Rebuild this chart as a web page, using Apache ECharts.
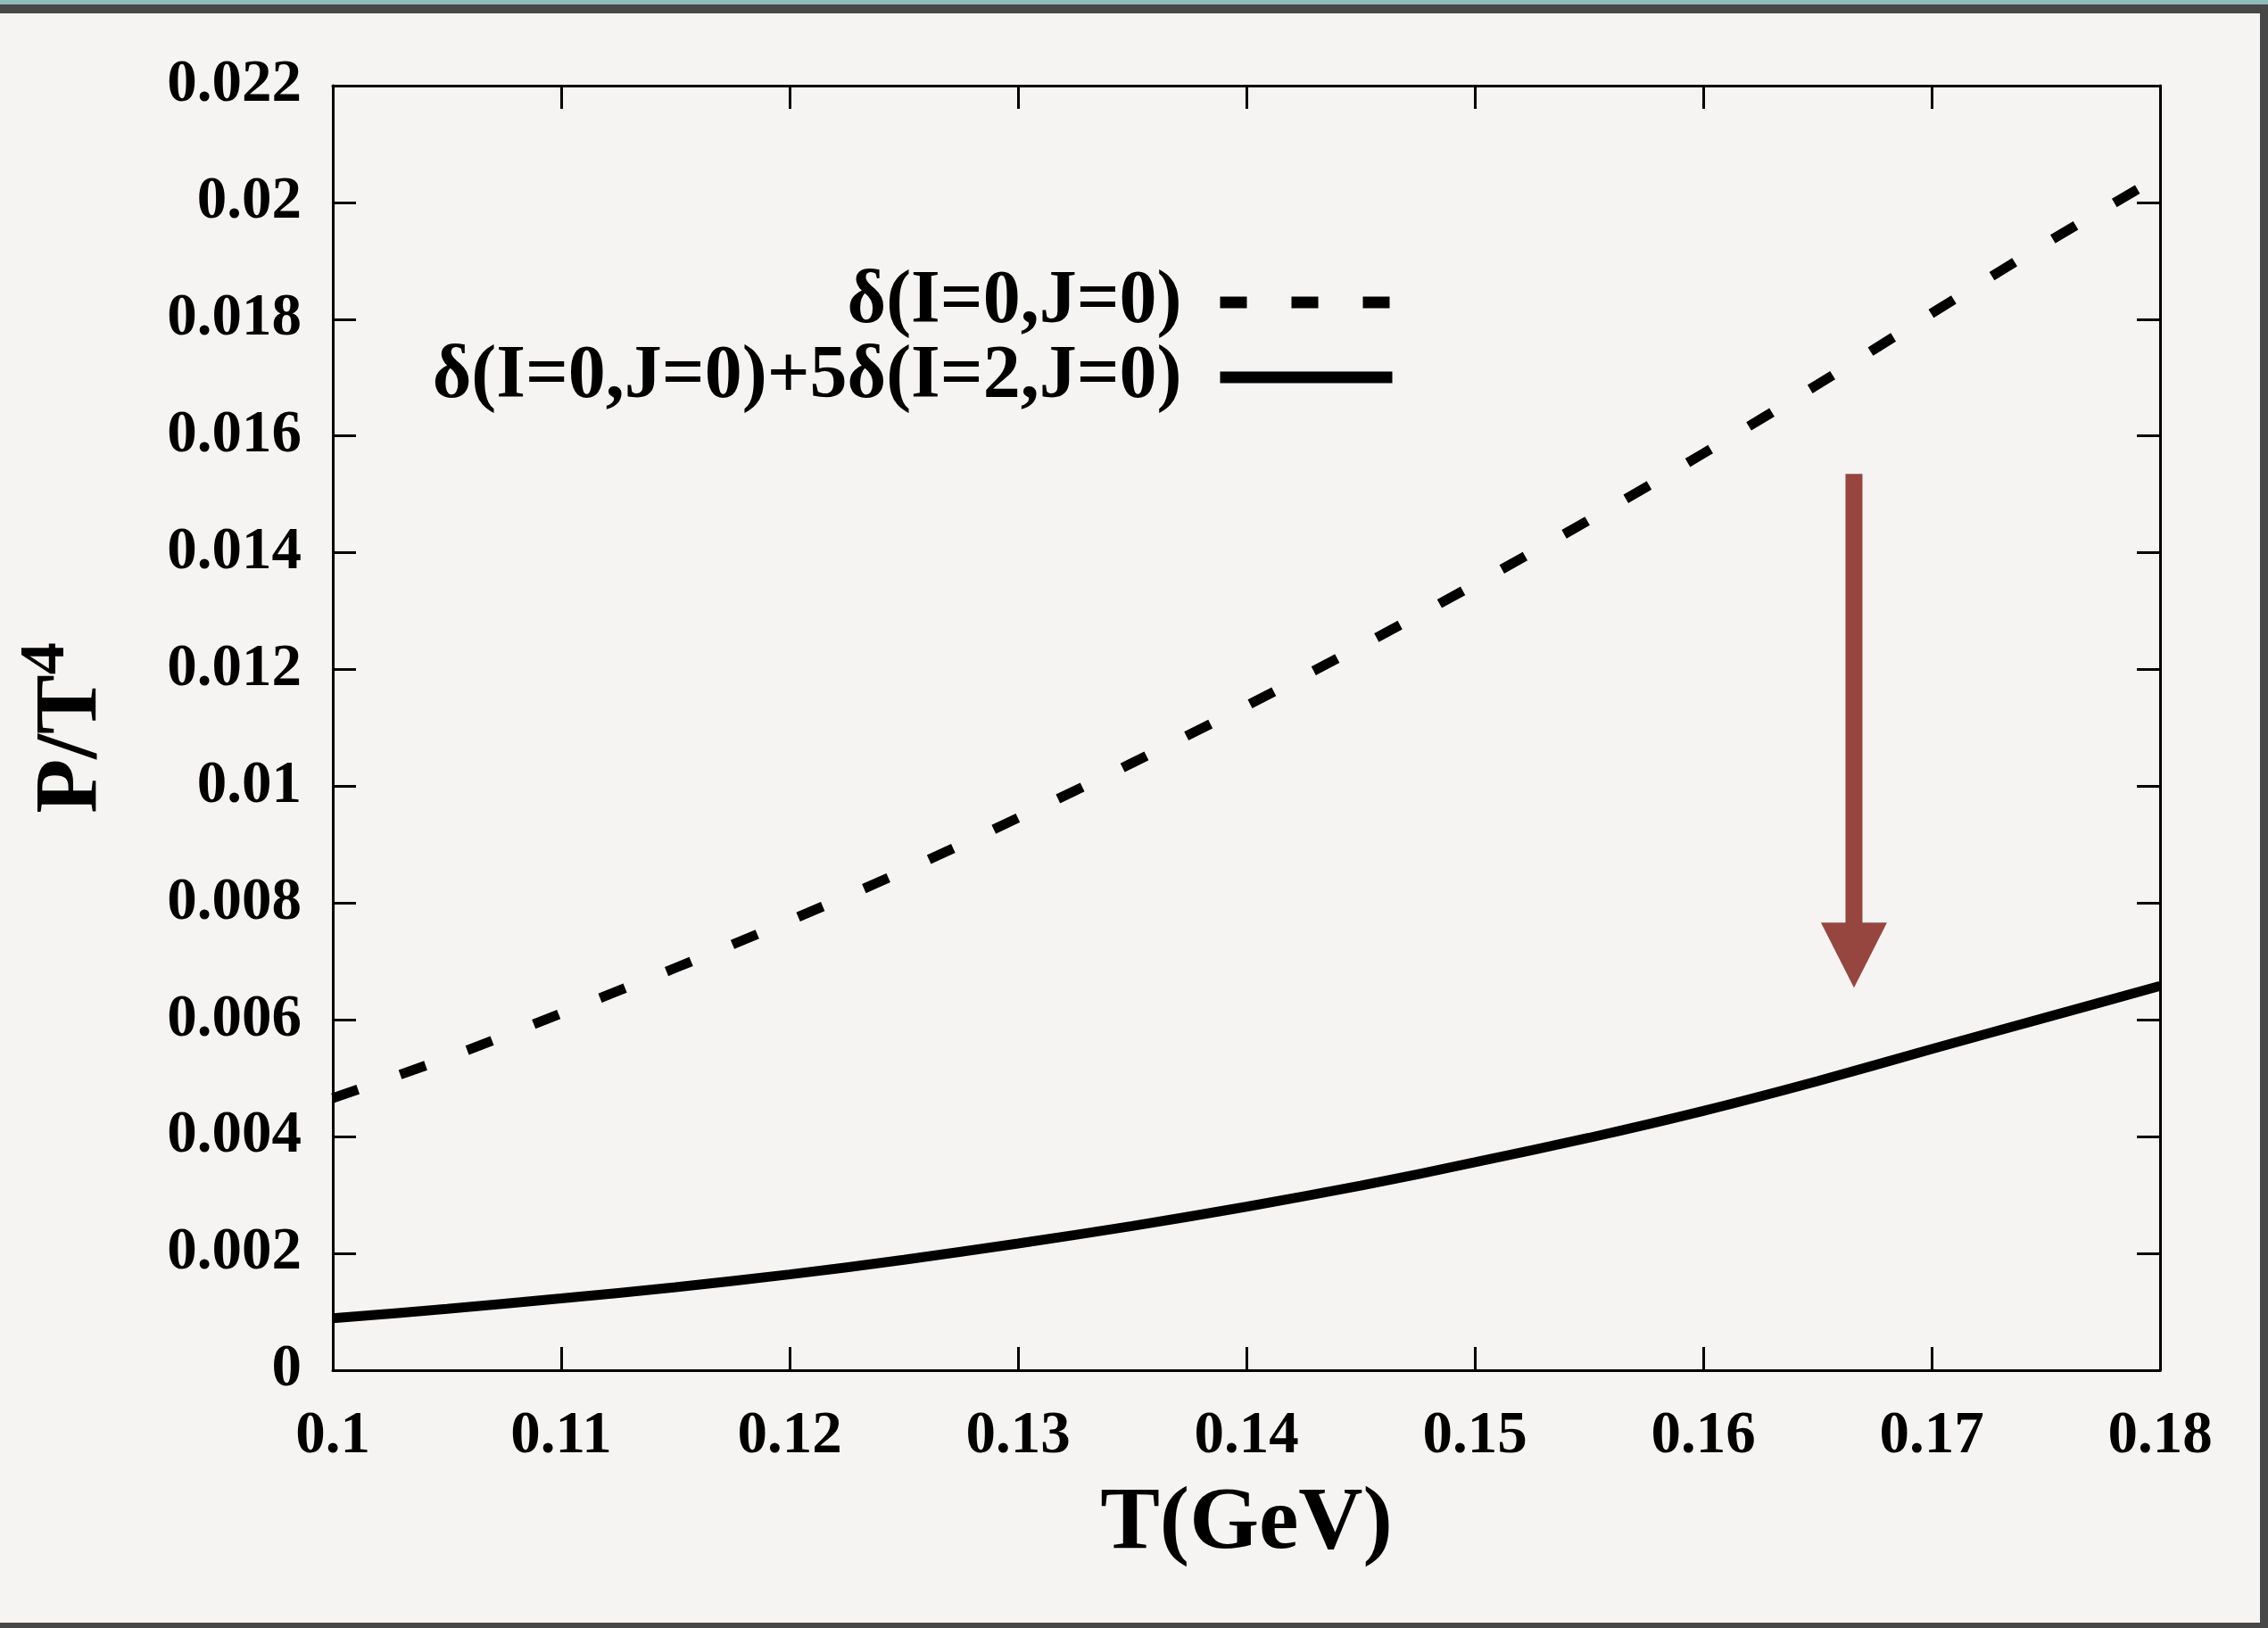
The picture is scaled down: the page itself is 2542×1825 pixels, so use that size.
<!DOCTYPE html>
<html>
<head>
<meta charset="utf-8">
<script src="https://cdn.jsdelivr.net/npm/echarts@6/dist/echarts.min.js"></script>
<style>
  html, body { margin: 0; padding: 0; background: #f5f4f2; }
  #chart { width: 2542px; height: 1825px; }
</style>
</head>
<body>
<div id="chart"></div>
<script>
// Temperature grid (GeV)
const temperatures = [0.100, 0.105, 0.110, 0.115, 0.120, 0.125, 0.130, 0.135, 0.140,
                      0.145, 0.150, 0.155, 0.160, 0.165, 0.170, 0.175, 0.180];
// P/T^4 from the I=0, J=0 phase shift only
const pressureIsoscalar = [0.00466, 0.00535, 0.00611, 0.00689, 0.00770, 0.00855, 0.00946, 0.01040, 0.01138,
                           0.01240, 0.01346, 0.01456, 0.01570, 0.01688, 0.01810, 0.01930, 0.02045];
// P/T^4 with the I=2, J=0 channel added
const pressureWithIsotensor = [0.00089, 0.00105, 0.00123, 0.00142, 0.00164, 0.00189, 0.00217, 0.00247, 0.00280,
                               0.00316, 0.00356, 0.00398, 0.00444, 0.00495, 0.00550, 0.00604, 0.00658];
// Shift arrow: [T, tail value, tip value]
const shiftArrow = [0.1666, 0.01535, 0.00655];

const xTickLabels = ['0.1', '0.11', '0.12', '0.13', '0.14', '0.15', '0.16', '0.17', '0.18'];
const yTickLabels = ['0', '0.002', '0.004', '0.006', '0.008', '0.01', '0.012', '0.014', '0.016', '0.018', '0.02', '0.022'];

const seriesNames = ['δ(I=0,J=0)', 'δ(I=0,J=0)+5δ(I=2,J=0)'];

const FONT = 'Liberation Serif';
const INK = '#000000';
const ARROW = '#96463e';

const chart = echarts.init(document.getElementById('chart'), null, { renderer: 'canvas' });

const frameLine = { show: true, onZero: false, lineStyle: { color: INK, width: 3 } };
const innerTicks = { show: true, inside: true, length: 26, lineStyle: { color: INK, width: 3 } };

const xRange = { type: 'value', min: 0.1, max: 0.18, interval: 0.01 };
const yRange = { type: 'value', min: 0, max: 0.022, interval: 0.002 };

chart.setOption({
  backgroundColor: '#f5f4f2',
  animation: false,
  graphic: [
    { type: 'rect', z: 100, shape: { x: 0, y: 0, width: 2542, height: 6 }, style: { fill: '#8fbcba' } },
    { type: 'rect', z: 100, shape: { x: 0, y: 5, width: 2542, height: 10 }, style: { fill: '#474747' } },
    { type: 'rect', z: 100, shape: { x: 2533, y: 5, width: 9, height: 1820 }, style: { fill: '#474747' } },
    { type: 'rect', z: 100, shape: { x: 0, y: 1819, width: 2542, height: 6 }, style: { fill: '#474747' } }
  ],
  grid: { left: 373, right: 121, top: 96, bottom: 289, containLabel: false },
  legend: {
    data: seriesNames,
    orient: 'vertical',
    align: 'right',
    right: 975,
    top: 297,
    padding: 0,
    itemGap: 0,
    itemWidth: 193,
    itemHeight: 14,
    lineStyle: { width: 13 },
    textStyle: {
      fontFamily: FONT, fontWeight: 'bold', fontSize: 84, lineHeight: 83,
      color: INK, padding: [0, 38, 0, 0]
    },
    selectedMode: false
  },
  xAxis: [
    Object.assign({}, xRange, {
      position: 'bottom',
      name: 'T(GeV)',
      nameLocation: 'middle',
      nameGap: 123,
      nameTextStyle: { fontFamily: FONT, fontWeight: 'bold', fontSize: 100, lineHeight: 100, color: INK },
      axisLine: frameLine,
      axisTick: innerTicks,
      splitLine: { show: false },
      axisLabel: {
        margin: 41,
        fontFamily: FONT, fontWeight: 'bold', fontSize: 67, lineHeight: 67, color: INK,
        formatter: (v, i) => xTickLabels[i]
      }
    }),
    Object.assign({}, xRange, {
      position: 'top',
      axisLine: frameLine,
      axisTick: innerTicks,
      splitLine: { show: false },
      axisLabel: { show: false }
    })
  ],
  yAxis: [
    Object.assign({}, yRange, {
      position: 'left',
      name: '{main|P/T}{sup|4}',
      nameLocation: 'middle',
      nameRotate: 90,
      nameGap: 227,
      nameTextStyle: {
        rich: {
          main: { fontFamily: FONT, fontWeight: 'bold', fontSize: 100, lineHeight: 130, color: INK },
          sup: { fontFamily: FONT, fontWeight: 'bold', fontSize: 72, lineHeight: 66, verticalAlign: 'top', color: INK }
        }
      },
      axisLine: frameLine,
      axisTick: innerTicks,
      splitLine: { show: false },
      axisLabel: {
        margin: 35,
        padding: [20, 0, 0, 0],
        fontFamily: FONT, fontWeight: 'bold', fontSize: 67, lineHeight: 67, color: INK,
        formatter: (v, i) => yTickLabels[i]
      }
    }),
    Object.assign({}, yRange, {
      position: 'right',
      axisLine: frameLine,
      axisTick: innerTicks,
      splitLine: { show: false },
      axisLabel: { show: false }
    })
  ],
  series: [
    {
      name: seriesNames[0],
      type: 'line',
      data: temperatures.map((t, i) => [t, pressureIsoscalar[i]]),
      showSymbol: false,
      symbol: 'none',
      smooth: 0.3,
      lineStyle: { color: INK, width: 11, type: [30, 50], cap: 'butt' },
      itemStyle: { color: INK },
      z: 4
    },
    {
      name: seriesNames[1],
      type: 'line',
      data: temperatures.map((t, i) => [t, pressureWithIsotensor[i]]),
      showSymbol: false,
      symbol: 'none',
      smooth: 0.3,
      lineStyle: { color: INK, width: 11, type: 'solid', cap: 'butt' },
      itemStyle: { color: INK },
      z: 4
    },
    {
      name: 'shift',
      type: 'custom',
      silent: true,
      z: 3,
      data: [shiftArrow],
      encode: { x: 0, y: [1, 2] },
      renderItem: function (params, api) {
        const tail = api.coord([api.value(0), api.value(1)]);
        const tip = api.coord([api.value(0), api.value(2)]);
        const headLen = 73, headHalf = 37, shaftHalf = 9.5;
        const x = tip[0];
        const baseY = tip[1] - headLen;
        return {
          type: 'group',
          children: [
            { type: 'rect', shape: { x: x - shaftHalf, y: tail[1], width: 2 * shaftHalf, height: baseY - tail[1] + 1 }, style: { fill: ARROW } },
            { type: 'polygon', shape: { points: [[x - headHalf, baseY], [x + headHalf, baseY], [x, tip[1]]] }, style: { fill: ARROW } }
          ]
        };
      }
    }
  ]
});
</script>
</body>
</html>
